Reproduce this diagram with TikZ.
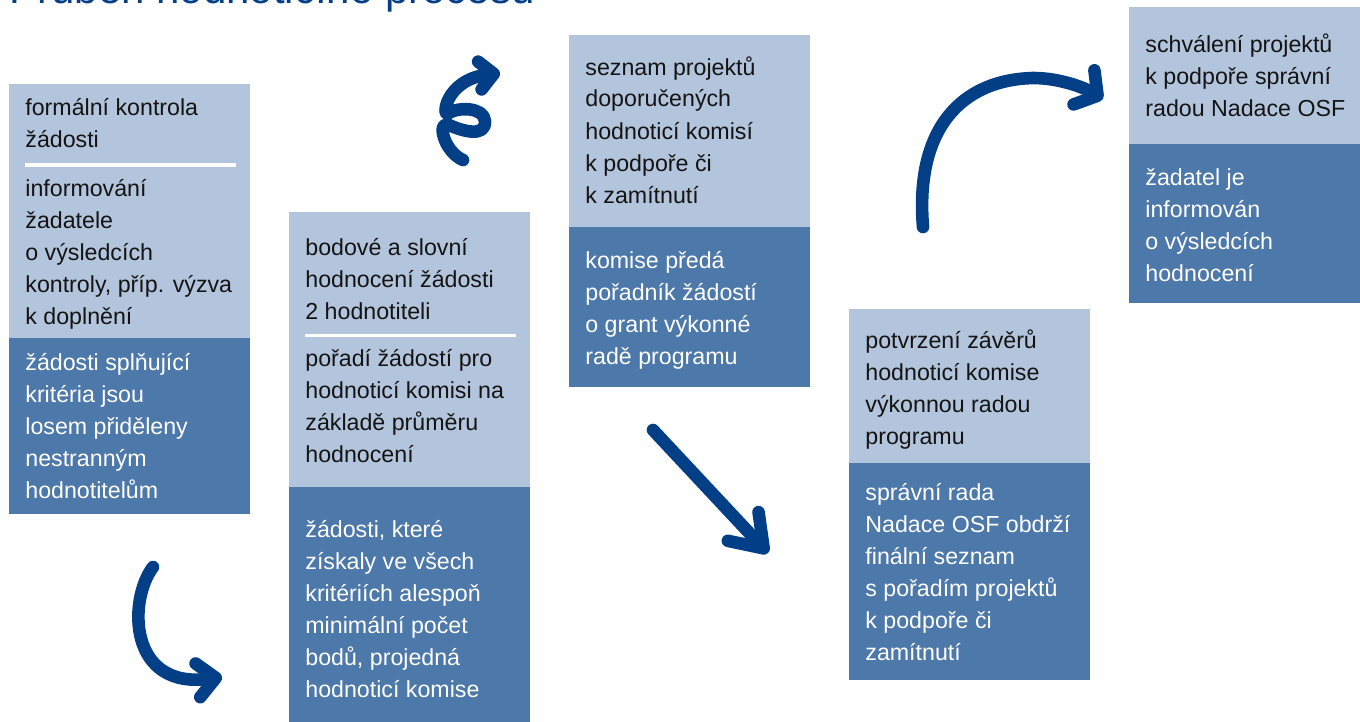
\documentclass[tikz,border=0pt]{standalone}
\usepackage{fontspec}
\setmainfont{Liberation Sans}
\usetikzlibrary{arrows.meta}
\definecolor{boxlight}{HTML}{B3C5DC}
\definecolor{boxdark}{HTML}{4D78AA}
\definecolor{osfblue}{HTML}{023F87}
\begin{document}
\begin{tikzpicture}[x=0.5pt, y=-0.5pt,
    lightpart/.style={fill=boxlight},
    darkpart/.style={fill=boxdark},
    rule/.style={draw=white, line width=1.5pt},
    boxtext/.style={anchor=base west, inner sep=0pt, align=left, text=black!92,
      font=\fontsize{11.6pt}{16pt}\selectfont},
    darktext/.style={boxtext, text=white},
    flowarrow/.style={draw=osfblue, line width=6.3pt, line cap=round, line join=round}
  ]
  \useasboundingbox (0,0) rectangle (1360,722);

  % title
  % -----
  \node [anchor=base west, inner sep=0pt, text=osfblue,
    font=\fontsize{21pt}{24pt}\selectfont] (title) at (9,4) {Průběh hodnoticího procesu};

  % boxes
  % -----
  \fill [lightpart] (9, 84) rectangle (250, 338);
  \fill [darkpart] (9, 338) rectangle (250, 514);
  \fill [lightpart] (289, 212) rectangle (530, 487);
  \fill [darkpart] (289, 487) rectangle (530, 730);
  \fill [lightpart] (569, 35) rectangle (810, 227);
  \fill [darkpart] (569, 227) rectangle (810, 387);
  \fill [lightpart] (849, 309) rectangle (1090, 463);
  \fill [darkpart] (849, 463) rectangle (1090, 680);
  \fill [lightpart] (1129, 7) rectangle (1370, 144);
  \fill [darkpart] (1129, 144) rectangle (1370, 303);

  \draw [rule] (25, 165) -- (236, 165);
  \draw [rule] (305, 335) -- (516, 335);

  % texts (placed at the baseline of their last line)
  % -----
  \node [boxtext] (formal) at (25, 148) {formální kontrola\\žádosti};
  \node [boxtext] (inform) at (25, 324) {informování\\žadatele\\o výsledcích\\kontroly, příp. výzva\\k doplnění};
  \node [darktext] (assign) at (25, 498) {žádosti splňující\\kritéria jsou\\losem přiděleny\\nestranným\\hodnotitelům};

  \node [boxtext] (scoring) at (305, 319) {bodové a slovní\\hodnocení žádosti\\2 hodnotiteli};
  \node [boxtext] (ranking) at (305, 462) {pořadí žádostí pro\\hodnoticí komisi na\\základě průměru\\hodnocení};
  \node [darktext] (panel) at (305, 697) {žádosti, které\\získaly ve všech\\kritériích alespoň\\minimální počet\\bodů, projedná\\hodnoticí komise};

  \node [boxtext] (shortlist) at (585, 203) {seznam projektů\\doporučených\\hodnoticí komisí\\k podpoře či\\k zamítnutí};
  \node [darktext] (handover) at (585, 364) {komise předá\\pořadník žádostí\\o grant výkonné\\radě programu};

  \node [boxtext] (confirm) at (865, 444) {potvrzení závěrů\\hodnoticí komise\\výkonnou radou\\programu};
  \node [darktext] (board) at (865, 660) {správní rada\\Nadace OSF obdrží\\finální seznam\\s pořadím projektů\\k podpoře či\\zamítnutí};

  \node [boxtext] (approval) at (1145, 117) {schválení projektů\\k podpoře správní\\radou Nadace OSF};
  \node [darktext] (notify) at (1145, 281) {žadatel je\\informován\\o výsledcích\\hodnocení};

  % arrows
  % ------
  \coordinate (a1s) at (153, 567);
  \coordinate (a1e) at (222, 677);
  \draw [flowarrow, -{Straight Barb[round, length=9pt, width=17pt]}]
    (a1s) .. controls (128, 600) and (128, 690) .. (a1e);

  \coordinate (a2s) at (463, 160);
  \coordinate (a2e) at (500, 73);
  \draw [flowarrow, -{Straight Barb[round, length=7pt, width=14pt]}]
    (a2s) .. controls (444, 152) and (436, 120) ..
    (449, 125) .. controls (462, 131) and (486, 138) ..
    (485, 121) .. controls (484, 107) and (458, 107) ..
    (449, 113) .. controls (441, 120) and (444, 80) ..
    (a2e);

  \coordinate (a3s) at (653, 430);
  \coordinate (a3e) at (768, 553);
  \draw [flowarrow, -{Straight Barb[round, length=15pt, width=21pt]}] (a3s) -- (a3e);

  \coordinate (a4s) at (923, 227);
  \coordinate (a4e) at (1103, 99);
  \draw [flowarrow, -{Straight Barb[round, length=8pt, width=20pt]}]
    (a4s) .. controls (915, 130) and (960, 80) ..
    (1033, 78) .. controls (1060, 78) and (1085, 88) ..
    (a4e);
\end{tikzpicture}
\end{document}
